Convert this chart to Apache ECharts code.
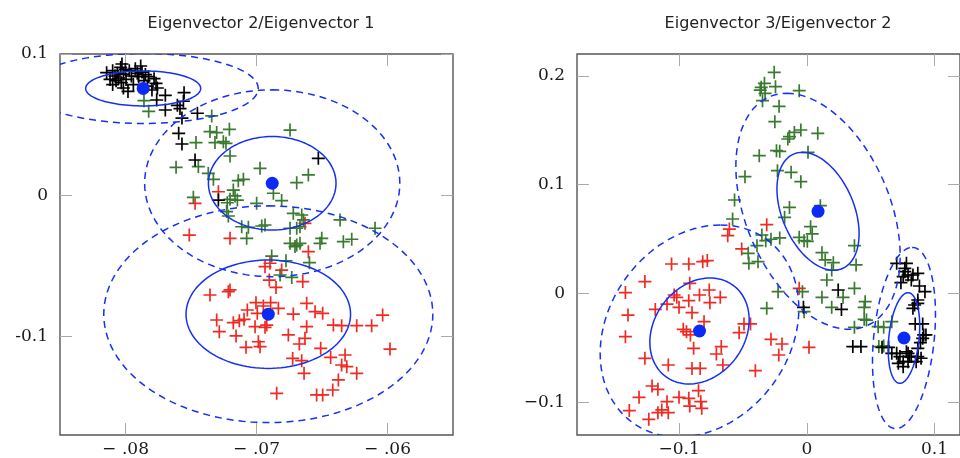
<!DOCTYPE html>
<html>
<head>
<meta charset="utf-8">
<script src="https://cdn.jsdelivr.net/npm/echarts@6/dist/echarts.min.js"></script>
<style>html,body{margin:0;padding:0;background:#fff}#c{width:960px;height:458px}</style>
</head>
<body>
<div id="c"></div>
<script>
// ---------- Titles ----------
const titles = ['Eigenvector 2/Eigenvector 1', 'Eigenvector 3/Eigenvector 2'];

// ---------- Tick values ----------
const leftXTicks = [-0.08, -0.07, -0.06];
const leftYTicks = [-0.1, 0, 0.1];
const rightXTicks = [-0.1, 0, 0.1];
const rightYTicks = [-0.1, 0, 0.1, 0.2];
const leftXRange = [-0.085, -0.055];
const leftYRange = [-0.17, 0.1];
const rightXRange = [-0.18, 0.12];
const rightYRange = [-0.13, 0.22];

// ---------- Left panel data (Eigenvector 1 , Eigenvector 2) ----------
const leftBlack = [
 [-0.08144,0.0868],[-0.08098,0.0882],[-0.08080,0.0844],[-0.08062,0.0863],[-0.08037,0.0905],
 [-0.08027,0.0929],[-0.08016,0.0858],[-0.08072,0.0811],[-0.08098,0.0783],[-0.08032,0.0797],
 [-0.07996,0.0820],[-0.07981,0.0735],[-0.08016,0.0759],[-0.07971,0.0882],[-0.07925,0.0896],
 [-0.07884,0.0915],[-0.07874,0.0872],[-0.07848,0.0854],[-0.07899,0.0839],[-0.07859,0.0811],
 [-0.07823,0.0839],[-0.07782,0.0825],[-0.07767,0.0792],[-0.07757,0.0759],[-0.07798,0.0745],
 [-0.07833,0.0773],[-0.07940,0.0783],[-0.07955,0.0844],[-0.08052,0.0830],[-0.08118,0.0820],
 [-0.08001,0.0891],[-0.07910,0.0863],[-0.07696,0.0707],[-0.07762,0.0674],[-0.07696,0.0603],
 [-0.07604,0.0636],[-0.07553,0.0726],[-0.07558,0.0665],[-0.07584,0.0613],[-0.07569,0.0546],
 [-0.07451,0.0580],[-0.07594,0.0438],[-0.07569,0.0362],[-0.07469,0.0249],[-0.06528,0.0261],
 [-0.07291,-0.0035]
];
const leftGreen = [
 [-0.07859,0.0669],[-0.07823,0.0594],[-0.07342,0.0561],[-0.07355,0.0450],[-0.07304,0.0443],
 [-0.07207,0.0466],[-0.06744,0.0461],[-0.07462,0.0372],[-0.07317,0.0372],[-0.07253,0.0379],
 [-0.07233,0.0367],[-0.07202,0.0277],[-0.07614,0.0197],[-0.07444,0.0202],[-0.07368,0.0154],
 [-0.07329,0.0112],[-0.06973,0.0190],[-0.06604,0.0143],[-0.06693,0.0088],[-0.07139,0.0102],
 [-0.07100,0.0112],[-0.07177,0.0036],[-0.07164,-0.0006],[-0.07146,-0.0035],[-0.07202,-0.0030],
 [-0.07223,-0.0054],[-0.06871,0.0013],[-0.06808,-0.0039],[-0.06999,-0.0058],[-0.07228,-0.0117],
 [-0.07215,-0.0148],[-0.06719,-0.0129],[-0.06655,-0.0141],[-0.06642,-0.0176],[-0.07113,-0.0224],
 [-0.07062,-0.0228],[-0.07075,-0.0306],[-0.06960,-0.0219],[-0.06935,-0.0212],[-0.06744,-0.0235],
 [-0.06693,-0.0235],[-0.06668,-0.0224],[-0.06362,-0.0176],[-0.06095,-0.0235],[-0.06744,-0.0342],
 [-0.06693,-0.0354],[-0.06668,-0.0342],[-0.06706,-0.0365],[-0.06502,-0.0306],[-0.06515,-0.0342],
 [-0.06337,-0.0330],[-0.06273,-0.0313],[-0.07482,-0.0016],[-0.06884,-0.0432],[-0.06775,-0.0465],
 [-0.06596,-0.0479],[-0.06820,-0.0566],[-0.06731,-0.0583]
];
const leftRed = [
 [-0.07291,0.0024],[-0.07469,-0.0058],[-0.07513,-0.0283],[-0.07202,-0.0306],[-0.06630,-0.0200],
 [-0.06604,-0.0401],[-0.06897,-0.0483],[-0.06935,-0.0507],[-0.06808,-0.0531],[-0.06902,-0.0602],
 [-0.06851,-0.0654],[-0.06647,-0.0613],[-0.07202,-0.0672],[-0.07215,-0.0684],[-0.07355,-0.0708],
 [-0.07004,-0.0762],[-0.06892,-0.0762],[-0.07070,-0.0814],[-0.06948,-0.0786],[-0.06833,-0.0802],
 [-0.06617,-0.0767],[-0.06553,-0.0826],[-0.06495,-0.0838],[-0.06719,-0.0843],[-0.07304,-0.0885],
 [-0.07177,-0.0904],[-0.07131,-0.0890],[-0.07095,-0.0880],[-0.06994,-0.0838],[-0.07011,-0.0932],
 [-0.06922,-0.0921],[-0.06935,-0.0937],[-0.06617,-0.0932],[-0.06413,-0.0921],[-0.06350,-0.0925],
 [-0.06235,-0.0925],[-0.06121,-0.0925],[-0.06037,-0.0850],[-0.07284,-0.0968],[-0.07156,-0.0998],
 [-0.06757,-0.0991],[-0.06630,-0.1015],[-0.06986,-0.1039],[-0.07080,-0.1079],[-0.06973,-0.1074],
 [-0.06673,-0.1055],[-0.06510,-0.1086],[-0.05981,-0.1091],[-0.06724,-0.1157],[-0.06655,-0.1173],
 [-0.06434,-0.1150],[-0.06324,-0.1133],[-0.06350,-0.1204],[-0.06311,-0.1216],[-0.06637,-0.1263],
 [-0.06235,-0.1263],[-0.06375,-0.1310],[-0.06418,-0.1381],[-0.06846,-0.1405],[-0.06541,-0.1416],
 [-0.06495,-0.1416]
];
// cluster means
const leftMeans = [[-0.07865,0.0756],[-0.0688,0.0084],[-0.0691,-0.0844]];
// ellipses: [cx, cy, ax, ay, bx, by] (centre + cos t * A + sin t * B)
const leftEllipsesSolid = [
 [-0.07865,0.0756,0,0.0124,0.00439,0],
 [-0.0688,0.0084,0,0.0331,0.00487,0],
 [-0.0691,-0.0844,0,0.0384,0.00628,0]
];
const leftEllipsesDashed = [
 [-0.07865,0.0756,0,0.0248,0.00878,0],
 [-0.0688,0.0084,0,0.0662,0.00974,0],
 [-0.0691,-0.0844,0,0.0768,0.01256,0]
];

// ---------- Right panel data (Eigenvector 2 , Eigenvector 3) ----------
const rightGreen = [
 [-0.02553,0.2032],[-0.03317,0.1931],[-0.03571,0.1894],[-0.02452,0.1900],[-0.03648,0.1869],
 [-0.03266,0.1839],[-0.03470,0.1771],[-0.00594,0.1863],[-0.02172,0.1719],[-0.02503,0.1578],
 [-0.00467,0.1502],[-0.00976,0.1480],[-0.01357,0.1441],[-0.01485,0.1419],[0.00857,0.1471],
 [-0.03724,0.1266],[-0.02375,0.1312],[-0.02121,0.1306],[0.00093,0.1297],[-0.02299,0.1128],
 [-0.01230,0.1113],[-0.00467,0.1027],[-0.04844,0.1073],[-0.05658,0.0859],[-0.01357,0.0791],
 [-0.01739,0.0700],[-0.05811,0.0684],[0.00297,0.0614],[0.00424,0.0547],[-0.03519,0.0537],
 [-0.03214,0.0485],[-0.02806,0.0498],[-0.03902,0.0439],[-0.02121,0.0510],[-0.00594,0.0516],
 [-0.00212,0.0485],[0.00042,0.0479],[0.03733,0.0439],[0.01061,0.0807],[-0.04588,0.0369],
 [-0.04537,0.0277],[-0.03824,0.0292],[-0.03137,-0.0136],[0.01187,0.0375],[0.01442,0.0308],
 [0.02078,0.0283],[0.03860,0.0262],[0.01951,0.0216],[0.01569,0.0124],[0.03732,0.0047],
 [-0.02249,0.0017],[-0.00340,0.0017],[0.01187,-0.0035],[0.02841,-0.0035],[0.01951,-0.0127],
 [0.04572,-0.0075],[0.04496,-0.0127],[0.04496,-0.0237],[0.04674,-0.0244],[0.03732,-0.0311],
 [0.05590,-0.0305],[0.06023,-0.0311],[0.06659,-0.0259],[0.05641,-0.0488],[0.06023,-0.0482],
 [-0.00212,-0.0167]
];
const rightRed = [
 [-0.03139,0.0632],[-0.06066,0.0592],[-0.06193,0.0531],[-0.05099,0.0409],[-0.10594,0.0271],
 [-0.09245,0.0271],[-0.08151,0.0292],[-0.07795,0.0302],[-0.12681,0.0109],[-0.14208,0.0008],
 [-0.09169,0.0093],[-0.14005,-0.0198],[-0.14208,-0.0397],[-0.11867,-0.0146],[-0.10950,-0.0097],
 [-0.10391,-0.0014],[-0.10009,-0.0127],[-0.10187,-0.0035],[-0.09245,-0.0066],[-0.08991,-0.0176],
 [-0.08406,-0.0014],[-0.07642,0.0032],[-0.07591,-0.0084],[-0.06777,-0.0035],[-0.08049,-0.0259],
 [-0.09678,-0.0329],[-0.09423,-0.0351],[-0.09118,-0.0381],[-0.04919,-0.0280],[-0.04410,-0.0280],
 [-0.05300,-0.0360],[-0.12681,-0.0596],[-0.10849,-0.0657],[-0.08864,-0.0504],[-0.08991,-0.0688],
 [-0.08355,-0.0688],[-0.06700,-0.0488],[-0.07082,-0.0556],[-0.06573,-0.0657],[-0.02806,-0.0421],
 [-0.01941,-0.0464],[-0.02196,-0.0565],[-0.04028,-0.0709],[0.00171,-0.0495],[-0.12121,-0.0850],
 [-0.11663,-0.0880],[-0.13139,-0.0954],[-0.10950,-0.0994],[-0.10009,-0.0954],[-0.09245,-0.0963],
 [-0.08482,-0.0893],[-0.08304,-0.0994],[-0.09169,-0.1034],[-0.08228,-0.1055],[-0.11358,-0.1070],
 [-0.11663,-0.1095],[-0.10849,-0.1095],[-0.13903,-0.1076],[-0.12376,-0.1156],[-0.00593,0.0047]
];
const rightBlack = [
 [0.02460,0.0032],[0.02714,-0.0146],[-0.00263,-0.0127],[0.07041,0.0277],[0.07804,0.0277],
 [0.07677,0.0231],[0.07677,0.0200],[0.07550,0.0155],[0.07932,0.0170],[0.08313,0.0170],
 [0.08695,0.0185],[0.07372,0.0099],[0.08186,0.0124],[0.08822,0.0069],[0.09255,0.0017],
 [0.08695,-0.0060],[0.08695,-0.0091],[0.08441,-0.0106],[0.08313,-0.0136],[0.08491,-0.0280],
 [0.09077,-0.0280],[0.09153,-0.0381],[0.09331,-0.0381],[0.08899,-0.0452],[0.09077,-0.0412],
 [0.03605,-0.0488],[0.04241,-0.0488],[0.05895,-0.0495],[0.06405,-0.0495],[0.06659,-0.0550],
 [0.07041,-0.0550],[0.07295,-0.0580],[0.07932,-0.0550],[0.07804,-0.0535],[0.08186,-0.0580],
 [0.08059,-0.0580],[0.08695,-0.0580],[0.07550,-0.0626],[0.07932,-0.0626],[0.07550,-0.0672],
 [0.07168,-0.0642],[0.08568,-0.0626],[0.08950,-0.0595],[0.08695,-0.0504]
];
const rightMeans = [[0.00879,0.0755],[-0.08404,-0.03445],[0.07612,-0.04088]];
const rightEllipsesSolid = [
 [0.00879,0.0755,-0.01221,0.0542,0.02977,0],
 [-0.08404,-0.03445,0.00824,0.04869,0.03802,0],
 [0.07612,-0.04088,0.00321,0.04161,0.01191,0]
];
const rightEllipsesDashed = [
 [0.00879,0.0755,-0.02442,0.1084,0.05954,0],
 [-0.08404,-0.03445,0.01648,0.09738,0.07604,0],
 [0.07612,-0.04088,0.00642,0.08322,0.02382,0]
];

// ---------- Styling ----------
const RED = '#ee2a22', GREEN = '#3a7a30', BLACK = '#000000', BLUE = '#1530f5';
const PLUS = 'path://M0 4.35H10V5.65H0Z M4.35 0H5.65V10H4.35Z';
const SERIF = '"DejaVu Serif", "Liberation Serif", serif';
const SANS = '"DejaVu Sans", "Noto Sans", sans-serif';

function fmtLeftX(v){ return '\u2212\u2004' + Math.abs(v).toFixed(2).replace(/^0/, ''); }
function fmtLeftY(v){ if (Math.abs(v) < 1e-9) return '0'; return (v < 0 ? '-' : '') + Math.abs(v).toFixed(1); }
function fmtRight(v){ if (Math.abs(v) < 1e-9) return '0'; return (v < 0 ? '\u2212' : '') + Math.abs(v).toFixed(1); }

function tickStyle(ticks){
  return {show:true, inside:true, length:12, lineStyle:{color:'#aaaaaa', width:1}, customValues:ticks};
}
function xAxes(gi, range, ticks, fmt){
  return [
    {type:'value', gridIndex:gi, position:'bottom', min:range[0], max:range[1],
     axisLine:{show:false, onZero:false}, splitLine:{show:false}, axisTick:tickStyle(ticks),
     axisLabel:{customValues:ticks, formatter:fmt, fontFamily:SERIF, fontSize:17, color:'#1a1a1a', margin:6}},
    {type:'value', gridIndex:gi, position:'top', min:range[0], max:range[1],
     axisLine:{show:false, onZero:false}, splitLine:{show:false}, axisTick:tickStyle(ticks), axisLabel:{show:false}}
  ];
}
function yAxes(gi, range, ticks, fmt){
  return [
    {type:'value', gridIndex:gi, position:'left', min:range[0], max:range[1],
     axisLine:{show:false, onZero:false}, splitLine:{show:false}, axisTick:tickStyle(ticks),
     axisLabel:{customValues:ticks, formatter:fmt, fontFamily:SERIF, fontSize:17, color:'#1a1a1a', margin:12}},
    {type:'value', gridIndex:gi, position:'right', min:range[0], max:range[1],
     axisLine:{show:false, onZero:false}, splitLine:{show:false}, axisTick:tickStyle(ticks), axisLabel:{show:false}}
  ];
}

function crosses(data, color, xi, yi){
  return {type:'scatter', xAxisIndex:xi, yAxisIndex:yi, data:data, symbol:PLUS, symbolSize:13,
    itemStyle:{color:color, opacity:1}, silent:true, z:2};
}
function ellipses(data, dashed, xi, yi){
  return {type:'custom', xAxisIndex:xi, yAxisIndex:yi, clip:true, silent:true, z:3, data:data,
    renderItem:function(params, api){
      const cx=api.value(0), cy=api.value(1), ax=api.value(2), ay=api.value(3), bx=api.value(4), by=api.value(5);
      const pts=[];
      for(let i=0;i<=120;i++){
        const t=i/120*Math.PI*2, c=Math.cos(t), s=Math.sin(t);
        pts.push(api.coord([cx+c*ax+s*bx, cy+c*ay+s*by]));
      }
      return {type:'polyline', shape:{points:pts},
        style:{stroke:BLUE, lineWidth:1.5, fill:null, lineDash: dashed ? [7,5] : null}};
    }};
}
function means(data, xi, yi){
  return {type:'scatter', xAxisIndex:xi, yAxisIndex:yi, data:data, symbol:'circle', symbolSize:13,
    itemStyle:{color:'#0b2af5', opacity:1}, silent:true, z:4};
}

const chart = echarts.init(document.getElementById('c'), null, {renderer:'canvas'});
chart.setOption({
  animation:false,
  backgroundColor:'#ffffff',
  title:[
    {text:titles[0], left:256, top:11, textAlign:'center',
     textStyle:{fontFamily:SANS, fontSize:16, fontWeight:'normal', color:'#222'}},
    {text:titles[1], left:773, top:11, textAlign:'center',
     textStyle:{fontFamily:SANS, fontSize:16, fontWeight:'normal', color:'#222'}}
  ],
  grid:[
    {left:60, top:54, width:393, height:381, show:true, borderColor:'#555555', borderWidth:1.4, backgroundColor:'transparent'},
    {left:577, top:54, width:393, height:381, show:true, borderColor:'#555555', borderWidth:1.4, backgroundColor:'transparent'}
  ],
  xAxis:[].concat(xAxes(0, leftXRange, leftXTicks, fmtLeftX), xAxes(1, rightXRange, rightXTicks, fmtRight)),
  yAxis:[].concat(yAxes(0, leftYRange, leftYTicks, fmtLeftY), yAxes(1, rightYRange, rightYTicks, fmtRight)),
  series:[
    crosses(leftRed, RED, 0, 0),
    crosses(leftGreen, GREEN, 0, 0),
    crosses(leftBlack, BLACK, 0, 0),
    ellipses(leftEllipsesSolid, false, 0, 0),
    ellipses(leftEllipsesDashed, true, 0, 0),
    means(leftMeans, 0, 0),
    crosses(rightRed, RED, 2, 2),
    crosses(rightGreen, GREEN, 2, 2),
    crosses(rightBlack, BLACK, 2, 2),
    ellipses(rightEllipsesSolid, false, 2, 2),
    ellipses(rightEllipsesDashed, true, 2, 2),
    means(rightMeans, 2, 2)
  ]
});
</script>
</body>
</html>
